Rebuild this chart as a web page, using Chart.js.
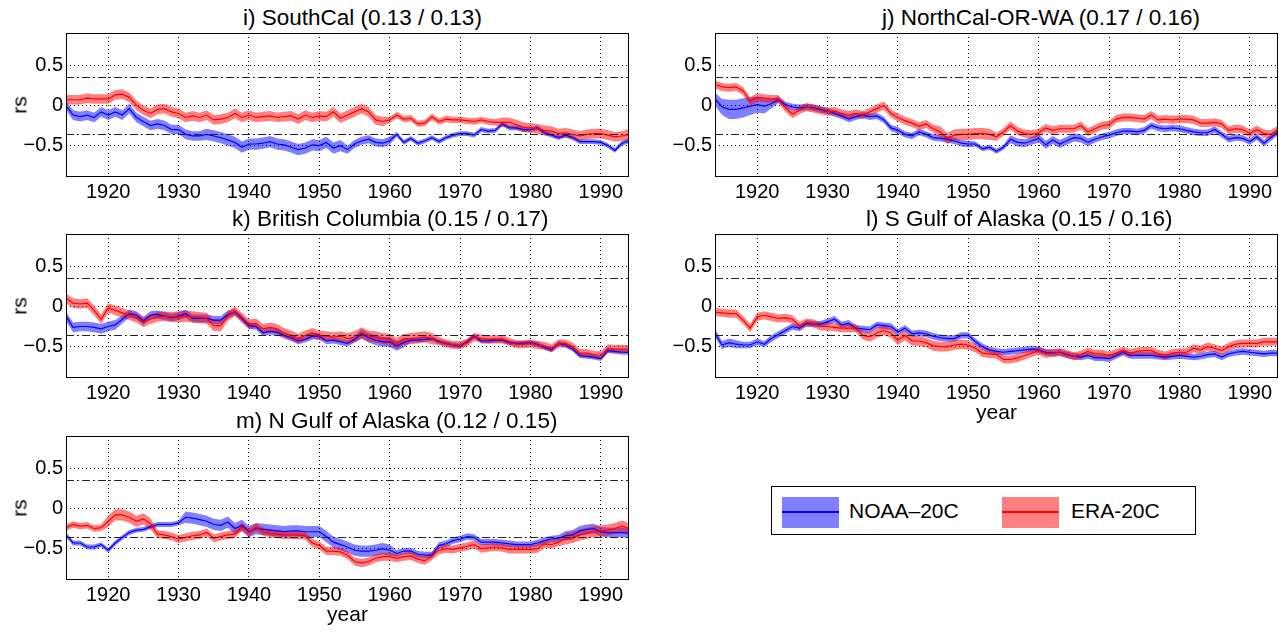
<!DOCTYPE html>
<html><head><meta charset="utf-8">
<script src="https://cdn.jsdelivr.net/npm/chart.js@4/dist/chart.umd.min.js"></script>
<style>
html,body{margin:0;padding:0;background:#fff;width:1279px;height:632px;overflow:hidden;font-family:"Liberation Sans",Arial,sans-serif;color:#000;}
canvas{position:absolute;}
.t{position:absolute;font-size:22.5px;line-height:22px;white-space:nowrap;}
.rs{position:absolute;font-size:21px;line-height:21px;transform:translate(-50%,-50%) rotate(-90deg);}
.yr{position:absolute;font-size:21px;line-height:21px;transform:translateX(-50%);}
#legend{position:absolute;left:771px;top:486px;width:425px;height:49px;border:1px solid #000;box-sizing:border-box;}
.patch{position:absolute;top:10px;width:57px;height:31px;}
.patch i{position:absolute;left:0;right:0;top:14px;height:2px;}
.lt{position:absolute;top:13px;font-size:21px;line-height:21px;}
</style></head><body>
<div id="legend">
  <div class="patch" style="left:10px;background:#8080ff"><i style="background:#0000ff"></i></div>
  <div class="lt" style="left:77px">NOAA–20C</div>
  <div class="patch" style="left:230px;background:#ff8080"><i style="background:#ff0000"></i></div>
  <div class="lt" style="left:299px">ERA-20C</div>
</div>
<script>
// ---------------- data ----------------
const firstYear = 1914, lastYear = 1994;
const years = [];
for (let y = firstYear; y <= lastYear; y++) years.push(y);
const xTicks = [1920, 1930, 1940, 1950, 1960, 1970, 1980, 1990];
const yTicks = [-0.5, 0, 0.5];
const sigLevel = 0.35;

const titles = ["i) SouthCal (0.13 / 0.13)", "j) NorthCal-OR-WA (0.17 / 0.16)",
  "k) British Columbia (0.15 / 0.17)", "l) S Gulf of Alaska (0.15 / 0.16)",
  "m) N Gulf of Alaska (0.12 / 0.15)"];

// i) SouthCal
const noaaI = [0.00,-0.12,-0.14,-0.12,-0.15,-0.08,-0.12,-0.08,-0.12,-0.04,
 -0.15,-0.20,-0.25,-0.23,-0.25,-0.30,-0.30,-0.36,-0.38,-0.38,
 -0.36,-0.38,-0.40,-0.43,-0.46,-0.52,-0.48,-0.48,-0.47,-0.45,
 -0.48,-0.49,-0.52,-0.55,-0.53,-0.49,-0.50,-0.46,-0.53,-0.50,
 -0.55,-0.48,-0.44,-0.42,-0.46,-0.47,-0.44,-0.36,-0.46,-0.41,
 -0.47,-0.44,-0.40,-0.45,-0.40,-0.37,-0.35,-0.35,-0.37,-0.30,
 -0.32,-0.31,-0.23,-0.28,-0.28,-0.30,-0.30,-0.28,-0.34,-0.37,
 -0.40,-0.37,-0.40,-0.45,-0.45,-0.45,-0.46,-0.50,-0.56,-0.47,
 -0.44];
const noaaSpreadI = [0.06,0.06,0.06,0.06,0.06,0.06,0.06,0.06,0.06,0.06,
 0.06,0.06,0.06,0.06,0.06,0.06,0.06,0.06,0.06,0.06,
 0.07,0.07,0.07,0.07,0.07,0.07,0.07,0.07,0.07,0.07,
 0.07,0.07,0.07,0.07,0.07,0.07,0.07,0.07,0.07,0.07,
 0.05,0.05,0.05,0.05,0.05,0.05,0.05,0.03,0.03,0.03,
 0.03,0.03,0.03,0.03,0.03,0.03,0.03,0.03,0.03,0.03,
 0.03,0.03,0.03,0.03,0.03,0.03,0.03,0.03,0.03,0.03,
 0.03,0.03,0.03,0.03,0.03,0.03,0.03,0.03,0.03,0.03,
 0.03];
const eraI = [0.07,0.07,0.07,0.09,0.08,0.08,0.08,0.13,0.14,0.10,
 0.00,-0.06,-0.10,-0.05,-0.04,-0.08,-0.10,-0.15,-0.13,-0.15,
 -0.12,-0.18,-0.17,-0.15,-0.10,-0.15,-0.12,-0.15,-0.14,-0.13,
 -0.15,-0.14,-0.13,-0.17,-0.12,-0.15,-0.13,-0.14,-0.08,-0.16,
 -0.12,-0.08,-0.04,-0.08,-0.18,-0.20,-0.18,-0.12,-0.17,-0.16,
 -0.23,-0.22,-0.14,-0.20,-0.17,-0.18,-0.18,-0.19,-0.20,-0.18,
 -0.20,-0.21,-0.21,-0.21,-0.24,-0.27,-0.28,-0.29,-0.31,-0.32,
 -0.35,-0.34,-0.36,-0.38,-0.36,-0.35,-0.35,-0.37,-0.39,-0.38,
 -0.36];
const eraSpreadI = [0.06,0.06,0.06,0.06,0.06,0.06,0.06,0.06,0.06,0.06,
 0.06,0.06,0.06,0.06,0.06,0.06,0.06,0.06,0.06,0.06,
 0.06,0.06,0.06,0.06,0.06,0.06,0.06,0.06,0.06,0.06,
 0.06,0.06,0.06,0.06,0.06,0.06,0.06,0.06,0.06,0.06,
 0.06,0.06,0.06,0.06,0.06,0.06,0.04,0.04,0.04,0.04,
 0.04,0.04,0.04,0.04,0.04,0.04,0.04,0.04,0.04,0.04,
 0.04,0.04,0.06,0.06,0.06,0.06,0.06,0.06,0.06,0.06,
 0.06,0.06,0.06,0.06,0.06,0.06,0.06,0.06,0.06,0.06,
 0.07];

// j) NorthCal-OR-WA
const noaaJ = [0.08,-0.02,-0.05,-0.05,-0.03,-0.01,0.01,-0.01,0.02,0.07,
 0.01,-0.02,-0.03,-0.02,-0.03,-0.05,-0.07,-0.10,-0.13,-0.17,
 -0.14,-0.12,-0.14,-0.13,-0.18,-0.28,-0.31,-0.36,-0.38,-0.33,
 -0.36,-0.40,-0.41,-0.42,-0.44,-0.47,-0.48,-0.48,-0.54,-0.52,
 -0.57,-0.52,-0.42,-0.46,-0.47,-0.44,-0.41,-0.49,-0.43,-0.48,
 -0.44,-0.40,-0.41,-0.46,-0.42,-0.39,-0.37,-0.34,-0.32,-0.32,
 -0.33,-0.31,-0.25,-0.28,-0.29,-0.28,-0.29,-0.31,-0.33,-0.34,
 -0.34,-0.30,-0.36,-0.42,-0.40,-0.41,-0.45,-0.39,-0.47,-0.40,
 -0.33];
const noaaSpreadJ = [0.08,0.10,0.12,0.12,0.12,0.11,0.10,0.09,0.06,0.04,
 0.04,0.04,0.04,0.04,0.04,0.04,0.04,0.04,0.04,0.04,
 0.04,0.04,0.04,0.04,0.04,0.04,0.04,0.04,0.04,0.04,
 0.04,0.04,0.04,0.04,0.04,0.04,0.04,0.03,0.03,0.03,
 0.03,0.03,0.05,0.05,0.05,0.05,0.05,0.05,0.05,0.05,
 0.05,0.05,0.05,0.05,0.04,0.04,0.04,0.04,0.04,0.04,
 0.04,0.04,0.04,0.04,0.04,0.04,0.04,0.04,0.04,0.04,
 0.04,0.04,0.04,0.04,0.04,0.04,0.04,0.04,0.04,0.04,
 0.04];
const eraJ = [0.26,0.23,0.22,0.23,0.18,0.05,0.10,0.09,0.08,0.08,
 -0.03,-0.11,-0.06,-0.02,-0.04,-0.06,-0.08,-0.07,-0.10,-0.12,
 -0.10,-0.12,-0.08,-0.04,0.00,-0.10,-0.15,-0.19,-0.22,-0.26,
 -0.23,-0.29,-0.33,-0.41,-0.37,-0.36,-0.36,-0.35,-0.35,-0.36,
 -0.39,-0.33,-0.25,-0.32,-0.35,-0.36,-0.34,-0.28,-0.31,-0.29,
 -0.29,-0.29,-0.25,-0.33,-0.29,-0.25,-0.24,-0.17,-0.15,-0.15,
 -0.16,-0.17,-0.12,-0.18,-0.17,-0.18,-0.17,-0.17,-0.18,-0.22,
 -0.22,-0.21,-0.23,-0.31,-0.29,-0.30,-0.35,-0.30,-0.35,-0.36,
 -0.30];
const eraSpreadJ = [0.05,0.05,0.05,0.05,0.05,0.05,0.05,0.05,0.05,0.05,
 0.05,0.05,0.05,0.05,0.05,0.05,0.05,0.05,0.05,0.05,
 0.05,0.05,0.05,0.05,0.05,0.05,0.05,0.05,0.05,0.05,
 0.05,0.05,0.07,0.07,0.07,0.07,0.07,0.07,0.07,0.07,
 0.05,0.05,0.05,0.05,0.05,0.05,0.05,0.05,0.05,0.05,
 0.05,0.05,0.05,0.05,0.05,0.05,0.05,0.05,0.05,0.05,
 0.05,0.05,0.05,0.05,0.05,0.05,0.05,0.05,0.05,0.05,
 0.05,0.05,0.05,0.05,0.05,0.05,0.05,0.05,0.05,0.05,
 0.05];

// k) British Columbia
const noaaK = [-0.12,-0.26,-0.25,-0.25,-0.26,-0.28,-0.25,-0.23,-0.16,-0.09,
 -0.11,-0.18,-0.11,-0.10,-0.12,-0.14,-0.12,-0.09,-0.15,-0.15,
 -0.15,-0.17,-0.17,-0.10,-0.07,-0.15,-0.24,-0.25,-0.33,-0.31,
 -0.32,-0.36,-0.39,-0.43,-0.41,-0.37,-0.37,-0.43,-0.42,-0.44,
 -0.46,-0.41,-0.34,-0.39,-0.42,-0.44,-0.44,-0.49,-0.45,-0.42,
 -0.42,-0.41,-0.40,-0.44,-0.46,-0.48,-0.49,-0.44,-0.37,-0.43,
 -0.43,-0.42,-0.42,-0.45,-0.46,-0.46,-0.45,-0.47,-0.51,-0.54,
 -0.46,-0.48,-0.53,-0.61,-0.62,-0.63,-0.65,-0.55,-0.56,-0.57,
 -0.57];
const noaaSpreadK = [0.06,0.06,0.06,0.06,0.06,0.06,0.06,0.06,0.05,0.05,
 0.05,0.05,0.05,0.05,0.05,0.05,0.05,0.05,0.05,0.05,
 0.05,0.05,0.05,0.05,0.04,0.04,0.04,0.04,0.04,0.04,
 0.04,0.04,0.04,0.04,0.04,0.04,0.04,0.04,0.04,0.04,
 0.04,0.04,0.06,0.06,0.06,0.06,0.06,0.06,0.06,0.03,
 0.03,0.03,0.03,0.03,0.03,0.03,0.03,0.03,0.03,0.03,
 0.03,0.03,0.03,0.03,0.03,0.03,0.03,0.03,0.03,0.03,
 0.03,0.03,0.03,0.03,0.03,0.03,0.03,0.03,0.03,0.03,
 0.03];
const eraK = [0.10,0.04,0.03,0.04,-0.05,-0.16,-0.02,-0.05,-0.08,-0.11,
 -0.14,-0.20,-0.16,-0.13,-0.12,-0.13,-0.13,-0.12,-0.13,-0.14,
 -0.15,-0.24,-0.24,-0.12,-0.06,-0.14,-0.22,-0.21,-0.28,-0.26,
 -0.28,-0.33,-0.36,-0.40,-0.36,-0.33,-0.36,-0.37,-0.38,-0.37,
 -0.40,-0.38,-0.33,-0.37,-0.38,-0.40,-0.41,-0.46,-0.41,-0.40,
 -0.39,-0.38,-0.40,-0.43,-0.46,-0.48,-0.48,-0.45,-0.38,-0.40,
 -0.41,-0.41,-0.41,-0.44,-0.47,-0.47,-0.46,-0.48,-0.49,-0.52,
 -0.46,-0.46,-0.50,-0.58,-0.58,-0.60,-0.61,-0.52,-0.53,-0.53,
 -0.53];
const eraSpreadK = [0.06,0.06,0.06,0.06,0.06,0.06,0.06,0.06,0.06,0.06,
 0.06,0.06,0.06,0.06,0.06,0.06,0.07,0.07,0.07,0.07,
 0.07,0.07,0.07,0.06,0.06,0.06,0.06,0.06,0.06,0.06,
 0.06,0.06,0.06,0.06,0.06,0.06,0.06,0.06,0.06,0.06,
 0.07,0.07,0.07,0.07,0.07,0.07,0.07,0.07,0.07,0.07,
 0.07,0.07,0.07,0.05,0.05,0.05,0.05,0.05,0.05,0.05,
 0.05,0.05,0.05,0.05,0.05,0.05,0.05,0.05,0.05,0.05,
 0.05,0.05,0.05,0.05,0.05,0.05,0.05,0.05,0.05,0.05,
 0.05];

// l) S Gulf of Alaska
const noaaL = [-0.33,-0.48,-0.45,-0.47,-0.48,-0.48,-0.44,-0.47,-0.40,-0.35,
 -0.30,-0.25,-0.27,-0.21,-0.22,-0.22,-0.19,-0.16,-0.23,-0.21,
 -0.27,-0.28,-0.29,-0.23,-0.24,-0.25,-0.32,-0.27,-0.34,-0.33,
 -0.34,-0.37,-0.39,-0.40,-0.40,-0.36,-0.36,-0.44,-0.50,-0.54,
 -0.56,-0.57,-0.56,-0.55,-0.54,-0.53,-0.54,-0.57,-0.58,-0.57,
 -0.60,-0.62,-0.63,-0.61,-0.64,-0.64,-0.65,-0.61,-0.57,-0.61,
 -0.61,-0.61,-0.61,-0.62,-0.63,-0.62,-0.61,-0.62,-0.63,-0.62,
 -0.60,-0.59,-0.63,-0.59,-0.57,-0.56,-0.57,-0.58,-0.59,-0.58,
 -0.58];
const noaaSpreadL = [0.05,0.05,0.05,0.05,0.04,0.04,0.04,0.04,0.04,0.04,
 0.04,0.04,0.04,0.04,0.04,0.04,0.04,0.04,0.04,0.04,
 0.04,0.04,0.04,0.04,0.04,0.04,0.04,0.04,0.04,0.04,
 0.04,0.04,0.04,0.04,0.04,0.04,0.04,0.04,0.04,0.04,
 0.04,0.04,0.04,0.04,0.04,0.04,0.04,0.04,0.04,0.04,
 0.04,0.04,0.04,0.04,0.04,0.04,0.04,0.04,0.04,0.04,
 0.04,0.04,0.04,0.04,0.04,0.04,0.04,0.04,0.04,0.04,
 0.04,0.04,0.04,0.04,0.04,0.04,0.04,0.04,0.04,0.04,
 0.04];
const eraL = [-0.07,-0.08,-0.09,-0.09,-0.17,-0.27,-0.13,-0.11,-0.13,-0.15,
 -0.14,-0.16,-0.24,-0.20,-0.21,-0.25,-0.25,-0.26,-0.27,-0.27,
 -0.27,-0.36,-0.38,-0.33,-0.30,-0.33,-0.42,-0.36,-0.43,-0.43,
 -0.45,-0.49,-0.50,-0.50,-0.48,-0.47,-0.48,-0.52,-0.58,-0.59,
 -0.60,-0.66,-0.66,-0.64,-0.61,-0.58,-0.55,-0.59,-0.58,-0.57,
 -0.59,-0.62,-0.60,-0.56,-0.59,-0.59,-0.61,-0.58,-0.55,-0.58,
 -0.56,-0.55,-0.55,-0.59,-0.61,-0.58,-0.57,-0.57,-0.52,-0.54,
 -0.50,-0.52,-0.55,-0.50,-0.47,-0.46,-0.46,-0.46,-0.44,-0.44,
 -0.44];
const eraSpreadL = [0.05,0.05,0.05,0.05,0.05,0.05,0.05,0.05,0.05,0.05,
 0.05,0.05,0.05,0.05,0.05,0.05,0.05,0.05,0.05,0.05,
 0.05,0.05,0.06,0.06,0.06,0.06,0.06,0.06,0.06,0.06,
 0.06,0.06,0.06,0.06,0.06,0.06,0.06,0.05,0.05,0.05,
 0.05,0.05,0.05,0.05,0.05,0.05,0.05,0.05,0.05,0.05,
 0.05,0.05,0.05,0.05,0.05,0.05,0.05,0.05,0.05,0.05,
 0.05,0.05,0.05,0.05,0.05,0.05,0.05,0.05,0.05,0.05,
 0.05,0.05,0.05,0.05,0.05,0.05,0.05,0.05,0.05,0.05,
 0.05];

// m) N Gulf of Alaska
const noaaM = [-0.33,-0.43,-0.43,-0.48,-0.48,-0.45,-0.52,-0.43,-0.36,-0.30,
 -0.27,-0.26,-0.23,-0.20,-0.20,-0.20,-0.18,-0.11,-0.12,-0.14,
 -0.16,-0.20,-0.21,-0.17,-0.25,-0.21,-0.29,-0.25,-0.26,-0.27,
 -0.28,-0.29,-0.28,-0.28,-0.29,-0.29,-0.29,-0.35,-0.42,-0.45,
 -0.48,-0.52,-0.53,-0.53,-0.52,-0.50,-0.52,-0.56,-0.53,-0.53,
 -0.57,-0.58,-0.58,-0.46,-0.44,-0.40,-0.38,-0.35,-0.36,-0.42,
 -0.42,-0.42,-0.43,-0.44,-0.45,-0.45,-0.45,-0.43,-0.40,-0.38,
 -0.37,-0.34,-0.33,-0.28,-0.26,-0.25,-0.29,-0.30,-0.30,-0.30,
 -0.31];
const noaaSpreadM = [0.03,0.03,0.03,0.03,0.03,0.03,0.03,0.03,0.03,0.03,
 0.03,0.03,0.03,0.03,0.03,0.03,0.03,0.07,0.07,0.07,
 0.07,0.07,0.07,0.07,0.07,0.07,0.07,0.07,0.07,0.07,
 0.07,0.07,0.07,0.07,0.07,0.07,0.07,0.07,0.07,0.07,
 0.07,0.07,0.07,0.07,0.07,0.07,0.07,0.04,0.04,0.04,
 0.04,0.04,0.04,0.04,0.04,0.04,0.04,0.04,0.04,0.04,
 0.04,0.04,0.04,0.04,0.04,0.04,0.04,0.04,0.04,0.04,
 0.04,0.06,0.06,0.06,0.06,0.06,0.06,0.06,0.06,0.06,
 0.06];
const eraM = [-0.24,-0.20,-0.22,-0.21,-0.25,-0.24,-0.16,-0.08,-0.08,-0.11,
 -0.16,-0.13,-0.19,-0.32,-0.33,-0.35,-0.38,-0.36,-0.34,-0.33,
 -0.30,-0.37,-0.35,-0.33,-0.32,-0.23,-0.30,-0.23,-0.29,-0.31,
 -0.32,-0.33,-0.33,-0.33,-0.34,-0.43,-0.46,-0.53,-0.53,-0.54,
 -0.58,-0.66,-0.68,-0.66,-0.62,-0.60,-0.60,-0.62,-0.60,-0.59,
 -0.63,-0.65,-0.59,-0.52,-0.50,-0.51,-0.49,-0.47,-0.45,-0.50,
 -0.49,-0.48,-0.49,-0.51,-0.51,-0.51,-0.51,-0.50,-0.44,-0.45,
 -0.42,-0.38,-0.36,-0.33,-0.31,-0.29,-0.28,-0.27,-0.25,-0.22,
 -0.25];
const eraSpreadM = [0.04,0.04,0.04,0.04,0.04,0.04,0.07,0.07,0.07,0.07,
 0.07,0.07,0.07,0.05,0.05,0.05,0.05,0.05,0.05,0.05,
 0.05,0.05,0.05,0.05,0.05,0.05,0.05,0.05,0.05,0.05,
 0.05,0.05,0.05,0.05,0.05,0.05,0.05,0.05,0.05,0.05,
 0.05,0.05,0.05,0.05,0.05,0.05,0.05,0.05,0.05,0.05,
 0.05,0.05,0.05,0.05,0.05,0.05,0.05,0.05,0.05,0.05,
 0.05,0.05,0.05,0.05,0.05,0.05,0.05,0.05,0.05,0.05,
 0.05,0.07,0.07,0.07,0.07,0.07,0.07,0.07,0.07,0.07,
 0.07];

// ---------------- layout ----------------
const FONT = '"Liberation Sans", Arial, sans-serif';
const YAXIS_W = 66, XAXIS_H = 34, PLOT_W = 563, PLOT_H = 144;
const panels = [
  {x: 66,  y: 33,  titleX: 243, noaa: noaaI, noaaS: noaaSpreadI, era: eraI, eraS: eraSpreadI, rs: true,  year: false},
  {x: 715, y: 33,  titleX: 882, noaa: noaaJ, noaaS: noaaSpreadJ, era: eraJ, eraS: eraSpreadJ, rs: false, year: false},
  {x: 66,  y: 234, titleX: 232, noaa: noaaK, noaaS: noaaSpreadK, era: eraK, eraS: eraSpreadK, rs: true,  year: false},
  {x: 715, y: 234, titleX: 866, noaa: noaaL, noaaS: noaaSpreadL, era: eraL, eraS: eraSpreadL, rs: false, year: true},
  {x: 66,  y: 436, titleX: 236, noaa: noaaM, noaaS: noaaSpreadM, era: eraM, eraS: eraSpreadM, rs: true,  year: true}
];

const pts = arr => arr.map((v, i) => ({x: years[i], y: v}));
const band = (arr, sp, sign) => arr.map((v, i) => ({x: years[i], y: v + sign * sp[i]}));

const framePlugin = {
  id: 'frame',
  afterDatasetsDraw(chart) {
    const {ctx, chartArea: a, scales} = chart;
    ctx.save();
    ctx.strokeStyle = '#222';
    ctx.lineWidth = 1;
    ctx.setLineDash([8, 3, 2, 3]);
    [sigLevel, -sigLevel].forEach(v => {
      const py = Math.round(scales.y.getPixelForValue(v)) + 0.5;
      ctx.beginPath(); ctx.moveTo(a.left, py); ctx.lineTo(a.right, py); ctx.stroke();
    });
    ctx.setLineDash([]);
    ctx.strokeStyle = '#000';
    ctx.strokeRect(a.left + 0.5, a.top + 0.5, a.right - a.left - 1, a.bottom - a.top - 1);
    ctx.restore();
  }
};

panels.forEach((p, k) => {
  const c = document.createElement('canvas');
  c.width = YAXIS_W + PLOT_W + 1;
  c.height = 1 + PLOT_H + XAXIS_H;
  c.style.left = (p.x - YAXIS_W) + 'px';
  c.style.top = (p.y - 1) + 'px';
  document.body.appendChild(c);

  const t = document.createElement('div');
  t.className = 't'; t.textContent = titles[k];
  t.style.left = p.titleX + 'px'; t.style.top = (p.y - 26) + 'px';
  document.body.appendChild(t);
  if (p.rs) {
    const r = document.createElement('div');
    r.className = 'rs'; r.textContent = 'rs';
    r.style.left = '19px'; r.style.top = (p.y + PLOT_H / 2) + 'px';
    document.body.appendChild(r);
  }
  if (p.year) {
    const yv = document.createElement('div');
    yv.className = 'yr'; yv.textContent = 'year';
    yv.style.left = (p.x + PLOT_W / 2) + 'px'; yv.style.top = (p.y + PLOT_H + 23) + 'px';
    document.body.appendChild(yv);
  }

  const common = {pointRadius: 0, tension: 0, borderWidth: 0};
  new Chart(c, {
    type: 'line',
    data: {datasets: [
      {...common, data: pts(p.era), borderColor: '#ff0000', borderWidth: 1.2, fill: false},
      {...common, data: pts(p.noaa), borderColor: '#0000ff', borderWidth: 1.2, fill: false},
      {...common, data: band(p.era, p.eraS, 1), backgroundColor: 'rgba(255,0,0,0.5)', borderColor: 'rgba(0,0,0,0)', fill: '+1'},
      {...common, data: band(p.era, p.eraS, -1), borderColor: 'rgba(0,0,0,0)', fill: false},
      {...common, data: band(p.noaa, p.noaaS, 1), backgroundColor: 'rgba(0,0,255,0.5)', borderColor: 'rgba(0,0,0,0)', fill: '+1'},
      {...common, data: band(p.noaa, p.noaaS, -1), borderColor: 'rgba(0,0,0,0)', fill: false}
    ]},
    options: {
      responsive: false, animation: false, devicePixelRatio: 1,
      layout: {padding: {top: 1, right: 1, left: 0, bottom: 0}},
      plugins: {legend: {display: false}, tooltip: {enabled: false}, title: {display: false}},
      scales: {
        x: {
          type: 'linear', min: firstYear, max: lastYear,
          afterBuildTicks: s => { s.ticks = xTicks.map(v => ({value: v})); },
          afterFit: s => { s.height = XAXIS_H; s.paddingLeft = 0; s.paddingRight = 0; },
          grid: {color: '#000', lineWidth: 1, drawTicks: false},
          border: {display: false, dash: [1, 3]},
          ticks: {color: '#000', font: {family: FONT, size: 20}, padding: 3, maxRotation: 0, autoSkip: false,
                  callback: v => String(v)}
        },
        y: {
          min: -0.89, max: 0.9,
          afterBuildTicks: s => { s.ticks = yTicks.map(v => ({value: v})); },
          afterFit: s => { s.width = YAXIS_W; s.paddingTop = 0; s.paddingBottom = 0; },
          grid: {color: '#000', lineWidth: 1, drawTicks: false},
          border: {display: false, dash: [1, 3]},
          ticks: {color: '#000', font: {family: FONT, size: 20}, padding: 3, autoSkip: false,
                  callback: v => v === 0 ? '0' : (v < 0 ? '\u2212' + (-v) : String(v))}
        }
      }
    },
    plugins: [framePlugin]
  });
});
</script>
</body></html>
